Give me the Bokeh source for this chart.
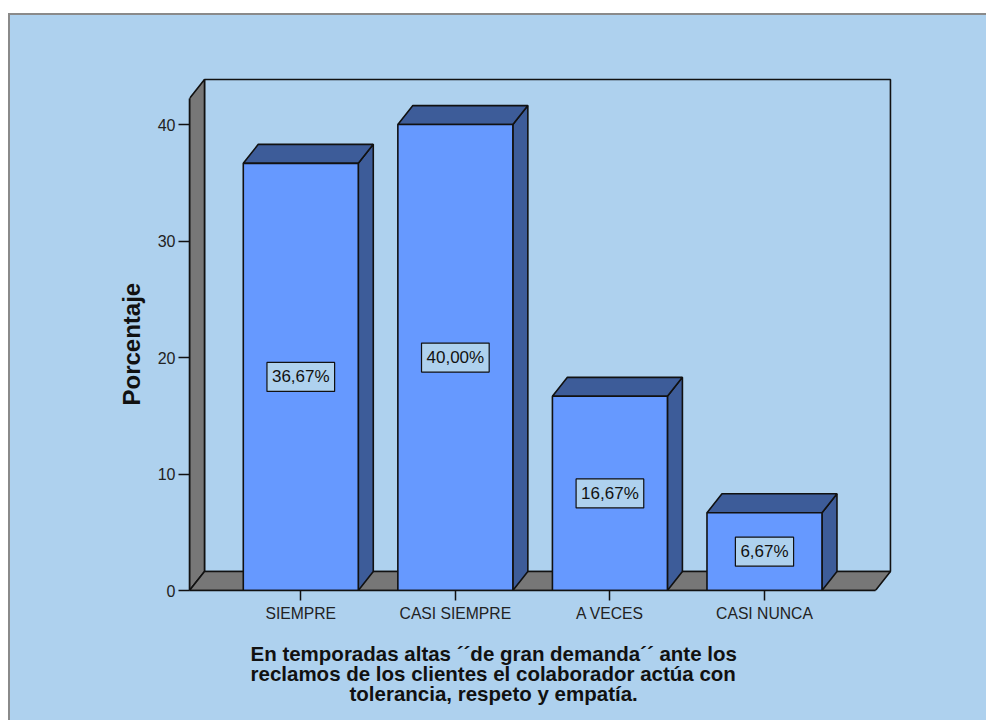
from bokeh.plotting import figure
from bokeh.models import Range1d, FixedTicker, Title, ColumnDataSource
from bokeh.embed import file_html
from bokeh.resources import INLINE
from bokeh.core.properties import value

# ---- data -------------------------------------------------------------
categories = ["SIEMPRE", "CASI SIEMPRE", "A VECES", "CASI NUNCA"]
percentages = [36.67, 40.00, 16.67, 6.67]
y_ticks = [0, 10, 20, 30, 40]
y_title = "Porcentaje"
x_title_lines = [
    "En temporadas altas \u00b4\u00b4de gran demanda\u00b4\u00b4 ante los",
    "reclamos de los clientes el colaborador act\u00faa con",
    "tolerancia, respeto y empat\u00eda.",
]

# ---- style ------------------------------------------------------------
BG = "#aed1ee"
FRONT = "#6699ff"
SHADE = "#3d5c99"
WALL = "#777777"
EDGE = "#111111"
FONT = "Liberation Sans"

# ---- geometry of the oblique 3D box (data units) ----------------------
X_START, X_END = -0.72, 3.88
Y_START, Y_END = 0.0, 45.5
DX, DY = 0.097, 1.63          # depth offset of the box
HALF = 0.372                   # half width of a bar
X_FLOOR_END = 3.718
Y_WALL_TOP = 42.24

p = figure(
    width=978, height=707, margin=(13, 0, 0, 8),
    x_range=Range1d(X_START, X_END), y_range=Range1d(Y_START, Y_END),
    output_backend="svg", toolbar_location=None,
    min_border_left=179, min_border_right=88,
    min_border_top=45, min_border_bottom=132,
)
p.styles = {
    "border-top": "2px solid #8a8a8a",
    "border-left": "2px solid #8a8a8a",
    "background-color": BG,
}
p.background_fill_color = None
p.border_fill_color = None
p.outline_line_color = None
p.xgrid.visible = False
p.ygrid.visible = False

# back wall
p.quad(left=X_START + DX, right=X_FLOOR_END + DX, bottom=DY, top=Y_WALL_TOP + DY,
       fill_color=None, line_color=EDGE, line_width=1.6)
# left wall
p.patch(x=[X_START, X_START, X_START + DX, X_START + DX],
        y=[0, Y_WALL_TOP, Y_WALL_TOP + DY, DY],
        fill_color=WALL, line_color=EDGE, line_width=1.6)
# floor
p.patch(x=[X_START, X_FLOOR_END, X_FLOOR_END + DX, X_START + DX],
        y=[0, 0, DY, DY],
        fill_color=WALL, line_color=EDGE, line_width=1.6)

# bars
idx = list(range(len(categories)))
side_xs = [[i + HALF, i + HALF + DX, i + HALF + DX, i + HALF] for i in idx]
side_ys = [[0, DY, v + DY, v] for v in percentages]
top_xs = [[i - HALF, i - HALF + DX, i + HALF + DX, i + HALF] for i in idx]
top_ys = [[v, v + DY, v + DY, v] for v in percentages]

p.patches(xs=side_xs, ys=side_ys, fill_color=SHADE, line_color=EDGE, line_width=1.6)
p.patches(xs=top_xs, ys=top_ys, fill_color=SHADE, line_color=EDGE, line_width=1.6)

bars = ColumnDataSource(dict(
    x=idx, val=percentages,
    left=[i - HALF for i in idx], right=[i + HALF for i in idx],
    mid=[v / 2 for v in percentages],
    txt=[("%.2f" % v).replace(".", ",") + "%" for v in percentages],
))
p.quad(left="left", right="right", bottom=0, top="val", source=bars,
       fill_color=FRONT, line_color=EDGE, line_width=1.6)

p.text(x="x", y="mid", text="txt", source=bars,
       text_font=value(FONT), text_font_size="17px", text_color="#111111",
       text_align="center", text_baseline="middle",
       background_fill_color=BG, border_line_color=EDGE, border_line_width=1.2,
       padding=5)

# axes
xa = p.xaxis[0]
xa.ticker = FixedTicker(ticks=idx)
xa.major_label_overrides = {i: c for i, c in zip(idx, categories)}
xa.bounds = (X_START, X_FLOOR_END)
xa.minor_tick_line_color = None
xa.major_tick_in = 0
xa.major_tick_out = 10
xa.major_tick_line_width = 1.5
xa.major_tick_line_color = EDGE
xa.axis_line_color = EDGE
xa.axis_line_width = 1.6
xa.major_label_standoff = 4
xa.major_label_text_font = FONT
xa.major_label_text_font_size = "15.7px"
xa.major_label_text_color = "#222222"
# blank axis label: a small gap between the tick labels and the title lines
xa.axis_label = " "
xa.axis_label_text_font_size = "12px"
xa.axis_label_standoff = 1

ya = p.yaxis[0]
ya.ticker = FixedTicker(ticks=y_ticks, minor_ticks=[])
ya.bounds = (0, Y_WALL_TOP)
ya.major_tick_in = 0
ya.major_tick_out = 11
ya.major_tick_line_width = 1.5
ya.major_tick_line_color = EDGE
ya.axis_line_color = EDGE
ya.axis_line_width = 1.6
ya.major_label_standoff = 3
ya.major_label_text_font = FONT
ya.major_label_text_font_size = "16px"
ya.major_label_text_color = "#222222"

# axis titles (left-aligned titles, shifted so each line sits centred on the page)
p.add_layout(Title(text=y_title, align="left", offset=185, standoff=19,
                   text_font=FONT, text_font_style="bold", text_font_size="24px",
                   text_color="#111111"), "left")
for line, off in zip(x_title_lines, [61, 61, 160]):
    p.add_layout(Title(text=line, align="left", offset=off, standoff=-4.9,
                       text_font=FONT, text_font_style="bold", text_font_size="20.5px",
                       text_color="#111111"), "below")

open("out.html", "w").write(file_html(p, INLINE))
